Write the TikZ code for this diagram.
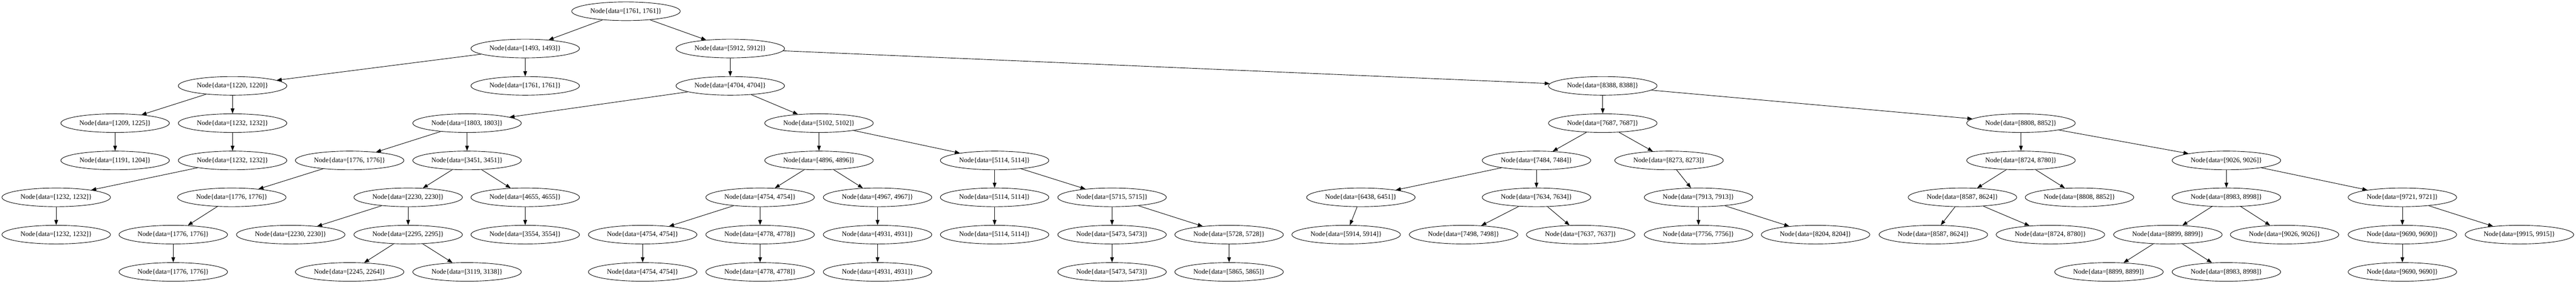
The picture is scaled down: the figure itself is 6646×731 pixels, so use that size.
\documentclass[tikz,border=0pt]{standalone}
\usepackage{fontspec}
\setmainfont{Liberation Serif}
\usetikzlibrary{shapes.geometric,arrows.meta}
\begin{document}
\begin{tikzpicture}[x=1pt,y=-1pt,
    every node/.style={draw,ellipse,line width=1.2pt,minimum width=280pt,minimum height=48pt,inner sep=0pt,
      font=\fontsize{17.5}{21}\selectfont}]
      \useasboundingbox (0,0) rectangle (6646,731);
      \draw
        (1615,29) node (0){Node\{data=[1761, 1761]\}}
        (1355,125) node (1){Node\{data=[1493, 1493]\}}
        (1884,125) node (2){Node\{data=[5912, 5912]\}}
        (600,221) node (3){Node\{data=[1220, 1220]\}}
        (1355,221) node (4){Node\{data=[1761, 1761]\}}
        (1884,221) node (5){Node\{data=[4704, 4704]\}}
        (4135,221) node (6){Node\{data=[8388, 8388]\}}
        (297,317) node (7){Node\{data=[1209, 1225]\}}
        (600,317) node (8){Node\{data=[1232, 1232]\}}
        (1205,317) node (9){Node\{data=[1803, 1803]\}}
        (2113,317) node (10){Node\{data=[5102, 5102]\}}
        (4135,317) node (11){Node\{data=[7687, 7687]\}}
        (5214,317) node (12){Node\{data=[8808, 8852]\}}
        (297,413) node (13){Node\{data=[1191, 1204]\}}
        (600,413) node (14){Node\{data=[1232, 1232]\}}
        (902,413) node (15){Node\{data=[1776, 1776]\}}
        (1205,413) node (16){Node\{data=[3451, 3451]\}}
        (2113,413) node (17){Node\{data=[4896, 4896]\}}
        (2566,413) node (18){Node\{data=[5114, 5114]\}}
        (3964,413) node (19){Node\{data=[7484, 7484]\}}
        (4306,413) node (20){Node\{data=[8273, 8273]\}}
        (5214,413) node (21){Node\{data=[8724, 8780]\}}
        (5744,413) node (22){Node\{data=[9026, 9026]\}}
        (145,508) node (23){Node\{data=[1232, 1232]\}}
        (598,508) node (24){Node\{data=[1776, 1776]\}}
        (1053,508) node (25){Node\{data=[2230, 2230]\}}
        (1355,508) node (26){Node\{data=[4655, 4655]\}}
        (1961,508) node (27){Node\{data=[4754, 4754]\}}
        (2264,508) node (28){Node\{data=[4967, 4967]\}}
        (2566,508) node (29){Node\{data=[5114, 5114]\}}
        (2869,508) node (30){Node\{data=[5715, 5715]\}}
        (3511,508) node (31){Node\{data=[6438, 6451]\}}
        (3964,508) node (32){Node\{data=[7634, 7634]\}}
        (4382,508) node (33){Node\{data=[7913, 7913]\}}
        (5063,508) node (34){Node\{data=[8587, 8624]\}}
        (5365,508) node (35){Node\{data=[8808, 8852]\}}
        (5744,508) node (36){Node\{data=[8983, 8998]\}}
        (6198,508) node (37){Node\{data=[9721, 9721]\}}
        (145,604) node (38){Node\{data=[1232, 1232]\}}
        (447,604) node (39){Node\{data=[1776, 1776]\}}
        (750,604) node (40){Node\{data=[2230, 2230]\}}
        (1053,604) node (41){Node\{data=[2295, 2295]\}}
        (1355,604) node (42){Node\{data=[3554, 3554]\}}
        (1658,604) node (43){Node\{data=[4754, 4754]\}}
        (1961,604) node (44){Node\{data=[4778, 4778]\}}
        (2264,604) node (45){Node\{data=[4931, 4931]\}}
        (2566,604) node (46){Node\{data=[5114, 5114]\}}
        (2869,604) node (47){Node\{data=[5473, 5473]\}}
        (3171,604) node (48){Node\{data=[5728, 5728]\}}
        (3473,604) node (49){Node\{data=[5914, 5914]\}}
        (3776,604) node (50){Node\{data=[7498, 7498]\}}
        (4078,604) node (51){Node\{data=[7637, 7637]\}}
        (4382,604) node (52){Node\{data=[7756, 7756]\}}
        (4684,604) node (53){Node\{data=[8204, 8204]\}}
        (4988,604) node (54){Node\{data=[8587, 8624]\}}
        (5290,604) node (55){Node\{data=[8724, 8780]\}}
        (5593,604) node (56){Node\{data=[8899, 8899]\}}
        (5894,604) node (57){Node\{data=[9026, 9026]\}}
        (6198,604) node (58){Node\{data=[9690, 9690]\}}
        (6500,604) node (59){Node\{data=[9915, 9915]\}}
        (447,700) node (60){Node\{data=[1776, 1776]\}}
        (902,700) node (61){Node\{data=[2245, 2264]\}}
        (1205,700) node (62){Node\{data=[3119, 3138]\}}
        (1658,700) node (63){Node\{data=[4754, 4754]\}}
        (1961,700) node (64){Node\{data=[4778, 4778]\}}
        (2264,700) node (65){Node\{data=[4931, 4931]\}}
        (2869,700) node (66){Node\{data=[5473, 5473]\}}
        (3171,700) node (67){Node\{data=[5865, 5865]\}}
        (5441,700) node (68){Node\{data=[8899, 8899]\}}
        (5744,700) node (69){Node\{data=[8983, 8998]\}}
        (6198,700) node (70){Node\{data=[9690, 9690]\}};
      \begin{scope}[-{Triangle[length=13pt,width=9.5pt]},line width=1.2pt]
        \draw (0) to (1);
        \draw (0) to (2);
        \draw (1) to (3);
        \draw (1) to (4);
        \draw (3) to (7);
        \draw (3) to (8);
        \draw (7) to (13);
        \draw (8) to (14);
        \draw (14) to (23);
        \draw (23) to (38);
        \draw (2) to (5);
        \draw (2) to (6);
        \draw (5) to (9);
        \draw (5) to (10);
        \draw (9) to (15);
        \draw (9) to (16);
        \draw (15) to (24);
        \draw (24) to (39);
        \draw (39) to (60);
        \draw (16) to (25);
        \draw (16) to (26);
        \draw (25) to (40);
        \draw (25) to (41);
        \draw (41) to (61);
        \draw (41) to (62);
        \draw (26) to (42);
        \draw (10) to (17);
        \draw (10) to (18);
        \draw (17) to (27);
        \draw (17) to (28);
        \draw (27) to (43);
        \draw (27) to (44);
        \draw (43) to (63);
        \draw (44) to (64);
        \draw (28) to (45);
        \draw (45) to (65);
        \draw (18) to (29);
        \draw (18) to (30);
        \draw (29) to (46);
        \draw (30) to (47);
        \draw (30) to (48);
        \draw (47) to (66);
        \draw (48) to (67);
        \draw (6) to (11);
        \draw (6) to (12);
        \draw (11) to (19);
        \draw (11) to (20);
        \draw (19) to (31);
        \draw (19) to (32);
        \draw (31) to (49);
        \draw (32) to (50);
        \draw (32) to (51);
        \draw (20) to (33);
        \draw (33) to (52);
        \draw (33) to (53);
        \draw (12) to (21);
        \draw (12) to (22);
        \draw (21) to (34);
        \draw (21) to (35);
        \draw (34) to (54);
        \draw (34) to (55);
        \draw (22) to (36);
        \draw (22) to (37);
        \draw (36) to (56);
        \draw (36) to (57);
        \draw (56) to (68);
        \draw (56) to (69);
        \draw (37) to (58);
        \draw (37) to (59);
        \draw (58) to (70);
      \end{scope}
    \end{tikzpicture}
\end{document}
